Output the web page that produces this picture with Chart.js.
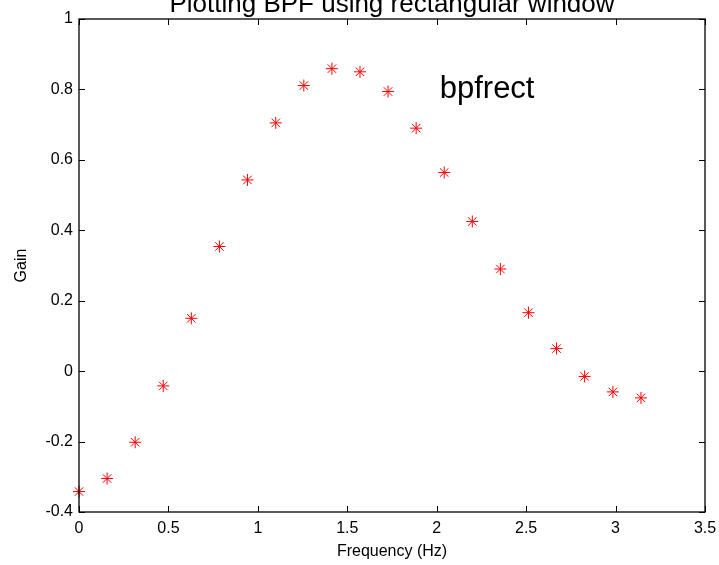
<!DOCTYPE html>
<html>
<head>
<meta charset="utf-8">
<script src="https://cdn.jsdelivr.net/npm/chart.js@4/dist/chart.umd.min.js"></script>
<style>
html,body{margin:0;padding:0;background:#ffffff;}
#wrap{width:719px;height:565px;position:relative;}
</style>
</head>
<body>
<div id="wrap"><canvas id="c" width="719" height="565"></canvas></div>
<script>
// ---- data ----
const frequency = [0, 0.157, 0.314, 0.471, 0.628, 0.785, 0.942, 1.100, 1.257, 1.414, 1.571,
                   1.728, 1.885, 2.042, 2.199, 2.356, 2.513, 2.670, 2.827, 2.985, 3.142];
const gain = [-0.342, -0.305, -0.202, -0.042, 0.150, 0.354, 0.543, 0.705, 0.811, 0.859, 0.850,
              0.794, 0.690, 0.564, 0.425, 0.290, 0.166, 0.064, -0.015, -0.059, -0.076];
const xTickValues = [0, 0.5, 1, 1.5, 2, 2.5, 3, 3.5];
const yTickValues = [-0.4, -0.2, 0, 0.2, 0.4, 0.6, 0.8, 1];
const chartTitle = 'Plotting BPF using rectangular window';
const xAxisTitle = 'Frequency (Hz)';
const yAxisTitle = 'Gain';
const annotationText = 'bpfrect';
const annotationX = 2;
const annotationY = 0.8;

const FONT = '"Liberation Sans", Arial, sans-serif';

const points = frequency.map((f, i) => ({x: f, y: gain[i]}));

const matlabFrame = {
  id: 'matlabFrame',
  afterDraw(chart) {
    const {ctx, chartArea: a, scales: {x, y}} = chart;
    ctx.save();
    ctx.strokeStyle = '#000000';
    ctx.lineWidth = 1.3;
    ctx.strokeRect(a.left, a.top, a.right - a.left, a.bottom - a.top);
    ctx.lineWidth = 1;
    const tl = 6;
    ctx.beginPath();
    xTickValues.forEach(v => {
      const px = Math.round(x.getPixelForValue(v)) + 0.5;
      ctx.moveTo(px, a.bottom); ctx.lineTo(px, a.bottom - tl);
      ctx.moveTo(px, a.top); ctx.lineTo(px, a.top + tl);
    });
    yTickValues.forEach(v => {
      const py = Math.round(y.getPixelForValue(v)) + 0.5;
      ctx.moveTo(a.left, py); ctx.lineTo(a.left + tl, py);
      ctx.moveTo(a.right, py); ctx.lineTo(a.right - tl, py);
    });
    ctx.stroke();
    // title (cut off at top, as in the reference)
    ctx.fillStyle = '#000000';
    ctx.font = '26px ' + FONT;
    ctx.textAlign = 'center';
    ctx.textBaseline = 'alphabetic';
    ctx.fillText(chartTitle, (a.left + a.right) / 2, 12);
    // text annotation at data coordinates
    ctx.font = '31px ' + FONT;
    ctx.textAlign = 'left';
    ctx.textBaseline = 'middle';
    ctx.fillText(annotationText, x.getPixelForValue(annotationX) + 3, y.getPixelForValue(annotationY));
    ctx.restore();
  }
};

new Chart(document.getElementById('c'), {
  type: 'scatter',
  data: {
    datasets: [{
      data: points,
      showLine: false,
      clip: false,
      pointStyle: 'star',
      pointRadius: 6,
      pointHoverRadius: 6,
      borderColor: '#ff0000',
      backgroundColor: '#ff0000',
      pointBorderWidth: 1
    }]
  },
  options: {
    responsive: false,
    animation: false,
    devicePixelRatio: 1,
    layout: {padding: {top: 19, right: 14, left: 0, bottom: 0}},
    plugins: {legend: {display: false}, tooltip: {enabled: false}, title: {display: false}},
    scales: {
      x: {
        type: 'linear',
        min: 0, max: 3.5,
        afterBuildTicks: s => { s.ticks = xTickValues.map(v => ({value: v})); },
        ticks: {
          color: '#000000',
          font: {family: FONT, size: 16},
          padding: 7,
          maxRotation: 0,
          callback: v => String(Number(v.toFixed(1)))
        },
        grid: {display: false, drawTicks: false},
        border: {display: false},
        title: {display: true, text: xAxisTitle, color: '#000000',
                font: {family: FONT, size: 16}, padding: {top: 0, bottom: 4}},
        afterFit: s => { s.height = 53; s.paddingRight = 0; s.paddingLeft = 0; }
      },
      y: {
        type: 'linear',
        min: -0.4, max: 1,
        afterBuildTicks: s => { s.ticks = yTickValues.map(v => ({value: v})); },
        ticks: {
          color: '#000000',
          font: {family: FONT, size: 16},
          padding: 6,
          callback: v => String(Number(v.toFixed(1)))
        },
        grid: {display: false, drawTicks: false},
        border: {display: false},
        title: {display: true, text: yAxisTitle, color: '#000000',
                font: {family: FONT, size: 16}, padding: {top: 12, bottom: 0}},
        afterFit: s => { s.width = 79; s.paddingTop = 0; s.paddingBottom = 0; }
      }
    }
  },
  plugins: [matlabFrame]
});
</script>
</body>
</html>
